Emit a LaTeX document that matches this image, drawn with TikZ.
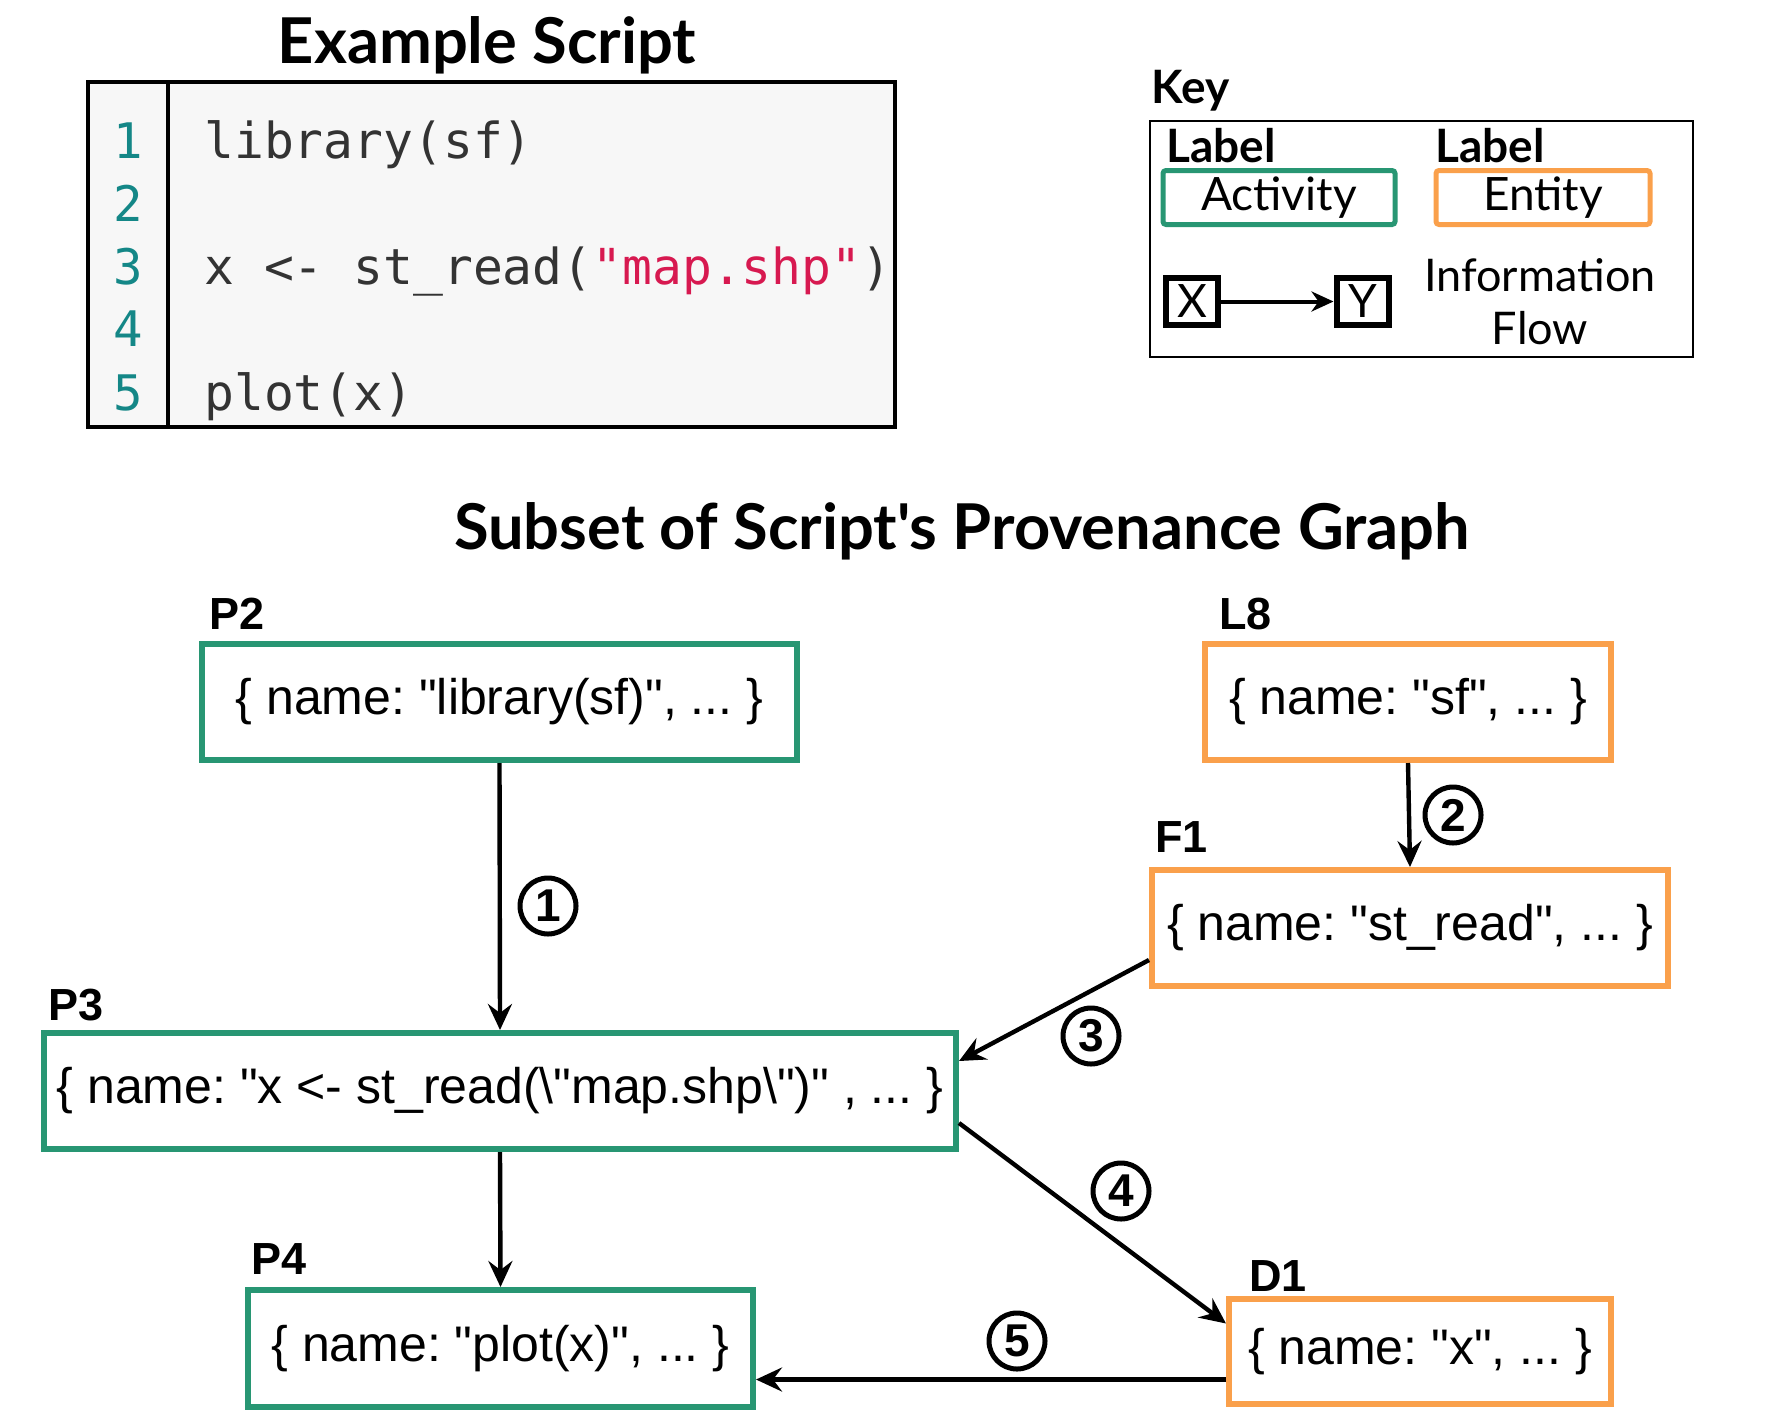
\documentclass[tikz,border=0pt]{standalone}
\usepackage{fontspec}
\setmainfont{Liberation Sans}
\newfontfamily\nodefont{Liberation Sans}
\newfontfamily\titlefont{Lato}
\newfontfamily\codefont{DejaVu Sans Mono}
\usetikzlibrary{arrows.meta}
\definecolor{actgreen}{RGB}{40,150,115}
\definecolor{entorange}{RGB}{250,160,75}
\definecolor{codebg}{RGB}{247,247,247}
\definecolor{lineno}{RGB}{20,135,135}
\definecolor{codetext}{RGB}{51,51,51}
\definecolor{codestr}{RGB}{215,25,80}
\begin{document}
\frenchspacing
\begin{tikzpicture}[x=0.5pt,y=-0.5pt,
  titletext/.style={font=\titlefont\bfseries\fontsize{31.6}{36}\selectfont, inner sep=0pt},
  keybold/.style={font=\titlefont\bfseries\fontsize{23}{28}\selectfont, inner sep=0pt, anchor=west},
  keytext/.style={font=\titlefont\fontsize{22.5}{27}\selectfont, inner sep=0pt},
  lnum/.style={font=\codefont\fontsize{24.5}{28}\selectfont, text=lineno, anchor=mid, inner sep=0pt},
  codeline/.style={font=\codefont\fontsize{24.8}{28}\selectfont, text=codetext, anchor=mid west, inner sep=0pt},
  gbox/.style={draw, line width=3pt, font=\nodefont\fontsize{25}{30}\selectfont, inner sep=0pt},
  activity/.style={gbox, draw=actgreen},
  entity/.style={gbox, draw=entorange},
  nlabel/.style={font=\bfseries\fontsize{22.5}{27}\selectfont, anchor=west, inner sep=0pt},
  circ/.style={circle, draw, line width=2.5pt, minimum size=28pt, inner sep=0pt, font=\bfseries\fontsize{23}{27}\selectfont},
  arr/.style={line width=2.2pt, -{Stealth[length=13pt, width=12pt, inset=4.5pt]}},
  xybox/.style={draw, line width=3pt, minimum width=26pt, minimum height=23.5pt, inner sep=0pt, font=\titlefont\fontsize{23}{28}\selectfont},
  keybox/.style={line width=2.5pt, rounded corners=1.5pt, minimum height=27pt, inner sep=0pt, font=\titlefont\fontsize{23}{28}\selectfont}
]
\useasboundingbox (0,0) rectangle (1775,1424);

% ---------- Example script ----------
\node[titletext] (t1) at (487,45) {Example Script};
\node[draw, line width=2pt, fill=codebg, minimum width=403.5pt, minimum height=172.5pt, inner sep=0pt] (code) at (491.5,254.5) {};
\coordinate (g1) at (168,80);
\coordinate (g2) at (168,429);
\draw[line width=2pt] (g1) -- (g2);
\node[lnum] (l1) at (128,153) {1};
\node[lnum] (l2) at (128,216) {2};
\node[lnum] (l3) at (128,279) {3};
\node[lnum] (l4) at (128,341) {4};
\node[lnum] (l5) at (128,405) {5};
\node[codeline] (c1) at (204,153) {library(sf)};
\node[codeline] (c3) at (204,279) {x <- st\_read(\textcolor{codestr}{"map.shp"})};
\node[codeline] (c5) at (204,405) {plot(x)};

% ---------- Key ----------
\node[keybold] (key) at (1151,91) {Key};
\node[draw, line width=1pt, minimum width=271.5pt, minimum height=118pt, inner sep=0pt] (keyframe) at (1421.5,239) {};
\node[keybold] (lab1) at (1166,146) {Label};
\node[keybold] (lab2) at (1435,146) {Label};
\node[keybox, draw=actgreen, minimum width=116pt] (kact) at (1279,197.5) {Activity};
\node[keybox, draw=entorange, minimum width=107pt] (kent) at (1543,197.5) {Entity};
\node[xybox] (kx) at (1192,301.5) {X};
\node[xybox] (ky) at (1362.5,301.5) {Y};
\draw[line width=2pt, -{Stealth[length=11pt, width=10pt, inset=3.5pt]}] (kx.east) -- (ky.west);
\node[keytext] (info1) at (1540,275) {Information};
\node[keytext] (info2) at (1540,328) {Flow};

% ---------- Provenance graph ----------
\node[titletext] (t2) at (962,531) {Subset of Script's Provenance Graph};

\node[nlabel] (lp2) at (209,614) {P2};
\node[activity, minimum width=297.5pt, minimum height=58pt] (P2) at (499.5,702) {\{ name: "library(sf)", ... \}};

\node[nlabel] (ll8) at (1219,614) {L8};
\node[entity, minimum width=203pt, minimum height=58pt] (L8) at (1408,702) {\{ name: "sf", ... \}};

\node[nlabel] (lf1) at (1155,837) {F1};
\node[entity, minimum width=258pt, minimum height=58pt] (F1) at (1410,928) {\{ name: "st\_read", ... \}};

\node[nlabel] (lp3) at (48,1005) {P3};
\node[activity, minimum width=456pt, minimum height=58pt] (P3) at (500,1091) {\{ name: "x <- st\_read(\textbackslash"map.shp\textbackslash")" , ... \}};

\node[nlabel] (lp4) at (251,1259) {P4};
\node[activity, minimum width=252.5pt, minimum height=58.5pt] (P4) at (500.5,1348.5) {\{ name: "plot(x)", ... \}};

\node[nlabel] (ld1) at (1249,1276) {D1};
\node[entity, minimum width=191pt, minimum height=52.5pt] (D1) at (1420,1351.5) {\{ name: "x", ... \}};

% connectors
\draw[arr] (P2.south) -- (P3.north);
\draw[arr] (L8.south) -- (F1.north);
\draw[arr] ([yshift=-16pt]F1.west) -- ([yshift=15pt]P3.east);
\draw[arr] ([yshift=-16pt]P3.east) -- ([yshift=14pt]D1.west);
\draw[arr] ([yshift=-14pt]D1.west) -- ([yshift=-14pt]D1.west -| P4.east);
\draw[arr] (P3.south) -- (P4.north);

% step numbers
\node[circ] (s1) at (548,906) {1};
\node[circ] (s2) at (1453,815) {2};
\node[circ] (s3) at (1091,1036) {3};
\node[circ] (s4) at (1121,1191) {4};
\node[circ] (s5) at (1017,1341) {5};
\end{tikzpicture}
\end{document}
